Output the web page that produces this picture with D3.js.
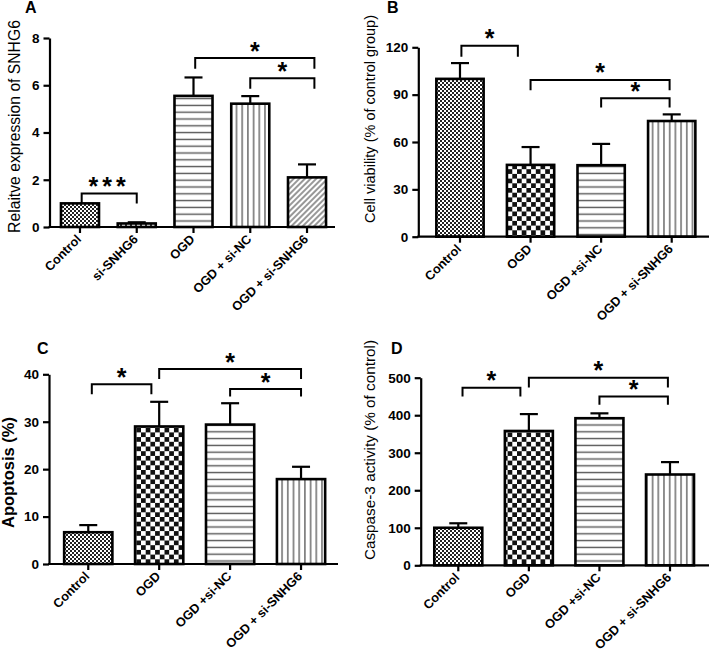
<!DOCTYPE html>
<html><head><meta charset="utf-8">
<script src="https://cdn.jsdelivr.net/npm/d3@7/dist/d3.min.js"></script>
<style>
body{margin:0;background:#fff;}
svg{display:block;font-family:"Liberation Sans",Arial,sans-serif;}
.tick text{font-weight:bold;}
</style></head><body>
<svg id="chart" width="709" height="660"></svg>
<script>
// ---------- DATA ----------
const catsA = ["Control","si-SNHG6","OGD","OGD + si-NC","OGD + si-SNHG6"];
const meanA = [1.0, 0.15, 5.55, 5.22, 2.1];
const errA  = [0.0, 0.05, 0.78, 0.32, 0.55];
const fillA = ["fine","dash","hlines","vlines","diag"];
const ticksA = [0,2,4,6,8];
// brackets: [fromPos, toPos, barValue, legDropValue, label]
const bracketsA = [[0.03,1.0,1.42,0.42,"***"],[2.03,4.13,7.15,0.45,"*"],[3.0,4.13,6.3,0.45,"*"]];

const catsB = ["Control","OGD","OGD +si-NC","OGD + si-SNHG6"];
const meanB = [100, 45.5, 45.3, 73.3];
const errB  = [10, 11.3, 13.5, 4.2];
const fillB = ["fine","checker","hlines","vlines"];
const ticksB = [0,30,60,90,120];
const bracketsB = [[0.02,0.82,121,7,"*"],[1.0,2.97,99.3,6.5,"*"],[2.0,2.97,87.7,5.8,"*"]];

const catsC = ["Control","OGD","OGD +si-NC","OGD + si-SNHG6"];
const meanC = [6.7, 29.0, 29.4, 17.9];
const errC  = [1.5, 5.2, 4.5, 2.6];
const fillC = ["fine","checker","hlines","vlines"];
const ticksC = [0,10,20,30,40];
const bracketsC = [[0.05,0.89,37.9,2.1,"*"],[1.0,3.0,41.1,2.1,"*"],[2.0,3.0,36.9,1.6,"*"]];

const catsD = ["Control","OGD","OGD +si-NC","OGD + si-SNHG6"];
const meanD = [100, 358, 392, 242];
const errD  = [12, 45, 13, 33];
const fillD = ["fine","checker","hlines","vlines"];
const ticksD = [0,100,200,300,400,500];
const bracketsD = [[0.06,0.88,473,23,"*"],[1.0,2.97,500,26,"*"],[2.0,2.97,450,22,"*"]];

// ---------- LAYOUT ----------
const panels = [
  {letter:"A", cats:catsA, mean:meanA, err:errA, fills:fillA, ticks:ticksA, br:bracketsA,
   ylabel:"Relaitve expression of SNHG6", dom:[0,8], yr:[227,38], xr:[51.6,335.4], ax:[49.5,335],
   pad:0.33, letterPos:[25,13], ylx:16, yly:126.5, ylfs:15.7, ylbold:false},
  {letter:"B", cats:catsB, mean:meanB, err:errB, fills:fillB, ticks:ticksB, br:bracketsB,
   ylabel:"Cell viability (% of control group)", dom:[0,120], yr:[236.7,47.3], xr:[424.7,707], ax:[418.3,709],
   pad:0.33, letterPos:[387,13], ylx:371, yly:119, ylfs:14.5, ylbold:false},
  {letter:"C", cats:catsC, mean:meanC, err:errC, fills:fillC, ticks:ticksC, br:bracketsC,
   ylabel:"Apoptosis (%)", dom:[0,40], yr:[564,374.3], xr:[52.8,336.5], ax:[49,338],
   pad:0.32, letterPos:[37,354], ylx:10, yly:472.5, ylfs:16.5, ylbold:true},
  {letter:"D", cats:catsD, mean:meanD, err:errD, fills:fillD, ticks:ticksD, br:bracketsD,
   ylabel:"Caspase-3 activity (% of control)", dom:[0,500], yr:[565.3,377.7], xr:[423,705.3], ax:[420.7,709],
   pad:0.32, letterPos:[391,354], ylx:371, yly:450, ylfs:15.3, ylbold:false}
];

const svg = d3.select("#chart");
const defs = svg.append("defs");
function pat(id,w,h){return defs.append("pattern").attr("id",id).attr("patternUnits","userSpaceOnUse").attr("width",w).attr("height",h);}
{ const p=pat("fine",4,4); p.append("rect").attr("width",4).attr("height",4).attr("fill","#fff");
  p.append("rect").attr("width",2).attr("height",2).attr("fill","#222");
  p.append("rect").attr("x",2).attr("y",2).attr("width",2).attr("height",2).attr("fill","#222"); }
{ const p=pat("checker",9.4,9.4); p.append("rect").attr("width",9.4).attr("height",9.4).attr("fill","#fff");
  p.append("rect").attr("width",4.7).attr("height",4.7).attr("fill","#111");
  p.append("rect").attr("x",4.7).attr("y",4.7).attr("width",4.7).attr("height",4.7).attr("fill","#111"); }
{ const p=pat("hlines",8,6.8); p.append("rect").attr("width",8).attr("height",6.8).attr("fill","#fff");
  p.append("line").attr("x1",0).attr("x2",8).attr("y1",3.4).attr("y2",3.4).attr("stroke","#555").attr("stroke-width",1.4); }
{ const p=pat("vlines",5.7,8); p.append("rect").attr("width",5.7).attr("height",8).attr("fill","#fff");
  p.append("line").attr("y1",0).attr("y2",8).attr("x1",2.8).attr("x2",2.8).attr("stroke","#555").attr("stroke-width",1.3); }
{ const p=pat("diag",4,4).attr("patternTransform","rotate(45)"); p.append("rect").attr("width",4).attr("height",4).attr("fill","#fff");
  p.append("line").attr("y1",0).attr("y2",4).attr("x1",2).attr("x2",2).attr("stroke","#444").attr("stroke-width",1.1); }
{ const p=pat("dash",5,4); p.append("rect").attr("width",5).attr("height",4).attr("fill","#fff");
  p.append("rect").attr("x",0).attr("width",2).attr("height",4).attr("fill","#333"); }

panels.forEach(P=>{
  const g = svg.append("g");
  const x = d3.scaleBand().domain(P.cats).range(P.xr).paddingInner(P.pad).paddingOuter(P.pad/2);
  const y = d3.scaleLinear().domain(P.dom).range(P.yr);
  const bw = x.bandwidth(), step = x.step();
  const c0 = x(P.cats[0]) + bw/2;
  const y0 = P.yr[0];

  // bars
  g.selectAll("rect.bar").data(P.cats).join("rect").attr("class","bar")
    .attr("x",d=>x(d)).attr("width",bw)
    .attr("y",(d,i)=>y(P.mean[i])).attr("height",(d,i)=>y0-y(P.mean[i]))
    .attr("fill",(d,i)=>`url(#${P.fills[i]})`).attr("stroke","#000").attr("stroke-width",2.6);
  // error bars
  P.cats.forEach((d,i)=>{
    if(!P.err[i]) return;
    const cx = x(d)+bw/2, yt=y(P.mean[i]+P.err[i]);
    g.append("line").attr("x1",cx).attr("x2",cx).attr("y1",y(P.mean[i])).attr("y2",yt).attr("stroke","#000").attr("stroke-width",2.2);
    g.append("line").attr("x1",cx-9).attr("x2",cx+9).attr("y1",yt).attr("y2",yt).attr("stroke","#000").attr("stroke-width",2.2);
  });

  // y axis
  const ya = g.append("g").attr("transform",`translate(${P.ax[0]},0)`)
    .call(d3.axisLeft(y).tickValues(P.ticks).tickSize(6).tickSizeOuter(0).tickPadding(4));
  ya.select(".domain").attr("stroke-width",2.2);
  ya.selectAll(".tick line").attr("stroke-width",2.2);
  ya.selectAll("text").attr("font-size",13.5).attr("fill","#000");

  // x axis
  const xa = g.append("g").attr("transform",`translate(0,${y0})`)
    .call(d3.axisBottom(x).tickSize(6).tickSizeOuter(0));
  xa.select(".domain").remove();
  xa.append("line").attr("x1",P.ax[0]-1).attr("x2",P.ax[1]).attr("stroke","#000").attr("stroke-width",2.2);
  xa.selectAll(".tick line").attr("stroke-width",2.2);
  xa.selectAll(".tick text").attr("y",0).attr("dy",0).attr("font-size",12.7).attr("fill","#000")
    .attr("text-anchor","end").attr("transform","translate(2,13) rotate(-45)");

  // brackets
  P.br.forEach(b=>{
    const xa1 = c0 + step*b[0], xb = c0 + step*b[1];
    const yb = y(b[2]), yl = y(b[2]-b[3]);
    g.append("path").attr("d",`M${xa1},${yl}V${yb}H${xb}V${yl}`).attr("fill","none").attr("stroke","#000").attr("stroke-width",2);
    g.append("text").attr("x",(xa1+xb)/2).attr("y",yb+1.5).attr("text-anchor","middle")
      .attr("font-size",25).attr("font-weight","bold").attr("letter-spacing", b[4].length>1?"4px":"0").text(b[4]);
  });

  // panel letter
  svg.append("text").attr("x",P.letterPos[0]).attr("y",P.letterPos[1]).attr("font-size",16).attr("font-weight","bold").text(P.letter);
  // y label
  svg.append("text").attr("transform",`translate(${P.ylx},${P.yly}) rotate(-90)`).attr("text-anchor","middle")
    .attr("dominant-baseline","middle").attr("font-size",P.ylfs).attr("font-weight",P.ylbold?"bold":"normal").text(P.ylabel);
});
</script>
</body></html>
